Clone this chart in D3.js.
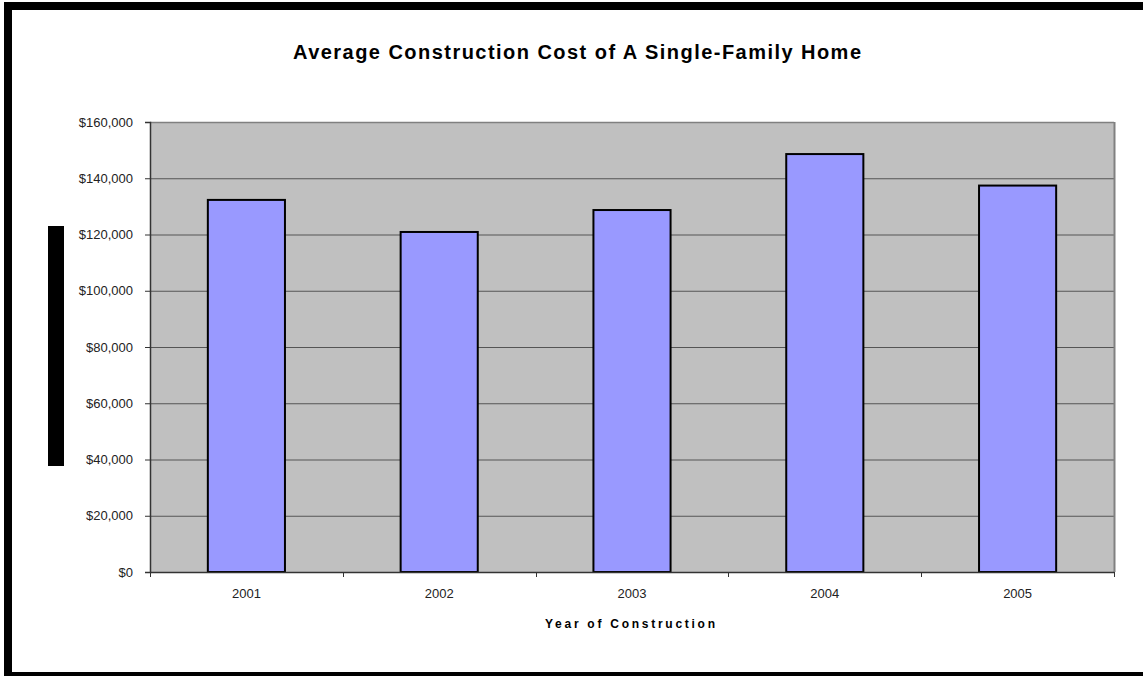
<!DOCTYPE html>
<html>
<head>
<meta charset="utf-8">
<script src="https://cdn.jsdelivr.net/npm/d3@7"></script>
<style>
  html, body { margin: 0; padding: 0; background: #fff; }
  svg { display: block; font-family: Arial, "Liberation Sans", sans-serif; }
</style>
</head>
<body>
<svg id="chart" width="1143" height="676"></svg>
<script>
// Average construction cost per year
const years = ["2001", "2002", "2003", "2004", "2005"];
const costs = [132300, 120900, 128700, 148600, 137400];
const yTicks = [0, 20000, 40000, 60000, 80000, 100000, 120000, 140000, 160000];

const svg = d3.select("#chart");
const plot = { left: 150, top: 122, right: 1114, bottom: 572 };

// Outer frame
svg.append("rect")
  .attr("x", 8).attr("y", 6)
  .attr("width", 1150).attr("height", 670)
  .attr("fill", "none").attr("stroke", "#000").attr("stroke-width", 8);

// Title
svg.append("text")
  .attr("x", 293).attr("y", 59)
  .attr("font-size", 20).attr("font-weight", "bold")
  .attr("textLength", 568).attr("lengthAdjust", "spacing")
  .attr("fill", "#000")
  .text("Average Construction Cost of A Single-Family Home");

const x = d3.scaleBand().domain(years).range([plot.left, plot.right]).paddingInner(0.6).paddingOuter(0.3);
const xBand = d3.scaleBand().domain(years).range([plot.left, plot.right]);
const y = d3.scaleLinear().domain([0, 160000]).range([plot.bottom, plot.top]);

// Plot background
svg.append("rect")
  .attr("x", plot.left).attr("y", plot.top)
  .attr("width", plot.right - plot.left).attr("height", plot.bottom - plot.top)
  .attr("fill", "#c0c0c0");

// Gridlines
svg.append("g").selectAll("line")
  .data(yTicks.filter(d => d > 0 && d < 160000))
  .join("line")
  .attr("x1", plot.left).attr("x2", plot.right)
  .attr("y1", d => y(d) + 0.5).attr("y2", d => y(d) + 0.5)
  .attr("stroke", "#555").attr("stroke-width", 1);

// Plot border: top and right grey
svg.append("line").attr("x1", plot.left).attr("x2", plot.right)
  .attr("y1", plot.top + 0.5).attr("y2", plot.top + 0.5)
  .attr("stroke", "#808080").attr("stroke-width", 1.5);
svg.append("line").attr("x1", plot.right + 0.5).attr("x2", plot.right + 0.5)
  .attr("y1", plot.top).attr("y2", plot.bottom)
  .attr("stroke", "#808080").attr("stroke-width", 2);

// Bars
svg.append("g").selectAll("rect")
  .data(years.map((yr, i) => ({ yr, v: costs[i] })))
  .join("rect")
  .attr("x", d => x(d.yr))
  .attr("y", d => y(d.v))
  .attr("width", x.bandwidth())
  .attr("height", d => plot.bottom - y(d.v))
  .attr("fill", "#9999ff")
  .attr("stroke", "#000").attr("stroke-width", 2);

// Y axis
const yAxis = d3.axisLeft(y).tickValues(yTicks).tickSize(5).tickPadding(12)
  .tickFormat(d => "$" + d3.format(",")(d));
const gy = svg.append("g").attr("transform", `translate(${plot.left},0)`).call(yAxis);
gy.select(".domain").attr("stroke", "#333").attr("stroke-width", 1.5);
gy.selectAll(".tick line").attr("stroke", "#333");
gy.selectAll("text").attr("font-size", 13).attr("fill", "#222")
  .attr("font-family", "Arial, 'Liberation Sans', sans-serif");

// X axis baseline with ticks between categories
svg.append("line").attr("x1", plot.left).attr("x2", plot.right)
  .attr("y1", plot.bottom + 0.5).attr("y2", plot.bottom + 0.5)
  .attr("stroke", "#333").attr("stroke-width", 1.5);
const bounds = years.map(yr => xBand(yr)).concat([plot.right]);
svg.append("g").selectAll("line")
  .data(bounds)
  .join("line")
  .attr("x1", d => Math.round(d) + 0.5).attr("x2", d => Math.round(d) + 0.5)
  .attr("y1", plot.bottom).attr("y2", plot.bottom + 5)
  .attr("stroke", "#333");
svg.append("g").selectAll("text")
  .data(years)
  .join("text")
  .attr("x", d => xBand(d) + xBand.bandwidth() / 2)
  .attr("y", 598)
  .attr("text-anchor", "middle")
  .attr("font-size", 13).attr("fill", "#222")
  .text(d => d);

// X axis title
svg.append("text")
  .attr("x", 545).attr("y", 628)
  .attr("font-size", 12).attr("font-weight", "bold")
  .attr("textLength", 170).attr("lengthAdjust", "spacing")
  .attr("fill", "#000")
  .text("Year of Construction");

// Vertical bar where the y-axis title sits
svg.append("rect")
  .attr("x", 48).attr("y", 226).attr("width", 16).attr("height", 240)
  .attr("fill", "#000");
</script>
</body>
</html>
